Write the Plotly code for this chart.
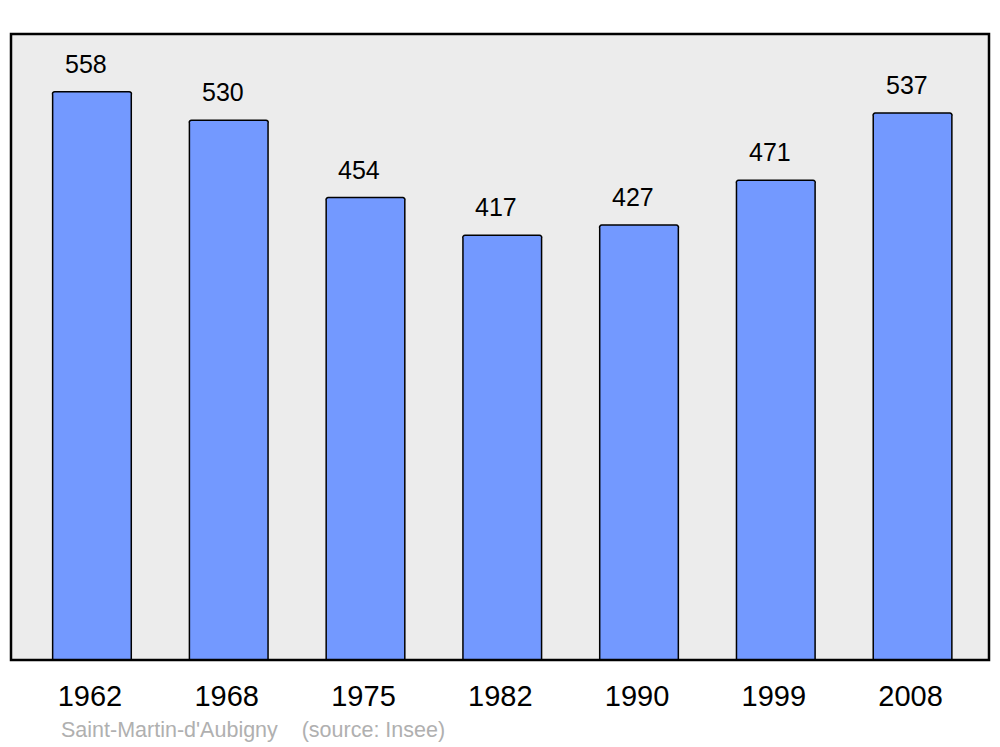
import plotly.graph_objects as go

years = ["1962", "1968", "1975", "1982", "1990", "1999", "2008"]
population = [558, 530, 454, 417, 427, 471, 537]
source_text = "Saint-Martin-d'Aubigny\u00a0\u00a0\u00a0\u00a0(source: Insee)"

idx = list(range(len(years)))

fig = go.Figure()
fig.add_trace(go.Bar(
    x=idx, y=population, width=0.575,
    marker=dict(color="#7399ff", line=dict(color="#000000", width=1.5), cornerradius=3),
    hoverinfo="skip",
))

for i, v in zip(idx, population):
    fig.add_annotation(x=i, y=v, text=str(v), showarrow=False, xref="x", yref="y",
                       yanchor="middle", yshift=28, xshift=-6,
                       font=dict(family="Liberation Sans, Arial, sans-serif", size=25, color="#000000"))

fig.add_annotation(x=(59 - 11) / 978, y=-0.112, xref="paper", yref="paper", xanchor="left",
                   yanchor="middle", text=source_text, showarrow=False,
                   font=dict(family="Liberation Sans, Arial, sans-serif", size=21.5, color="#b0b0b0"))

# plot frame
fig.add_shape(type="rect", xref="x domain", yref="y domain", x0=0, x1=1, y0=0, y1=1,
              line=dict(color="#000000", width=2.5), fillcolor="rgba(0,0,0,0)", layer="above")

fig.update_layout(
    width=1000, height=747,
    margin=dict(l=11, r=11, t=34, b=87),
    paper_bgcolor="#ffffff", plot_bgcolor="#ececec",
    showlegend=False, bargap=0,
    xaxis=dict(range=[-0.592, 6.559], tickvals=idx, ticktext=years, showgrid=False,
               zeroline=False, showline=False, ticks="", ticklabelshift=-2, ticklabelstandoff=16,
               tickfont=dict(family="Liberation Sans, Arial, sans-serif", size=29, color="#000000")),
    yaxis=dict(range=[0, 614.6], showgrid=False, zeroline=False, showticklabels=False,
               showline=False, ticks=""),
)

fig.write_html("out.html", config={"displayModeBar": False, "staticPlot": True},
               post_script="document.body.style.margin='0';document.body.style.overflow='hidden';")
